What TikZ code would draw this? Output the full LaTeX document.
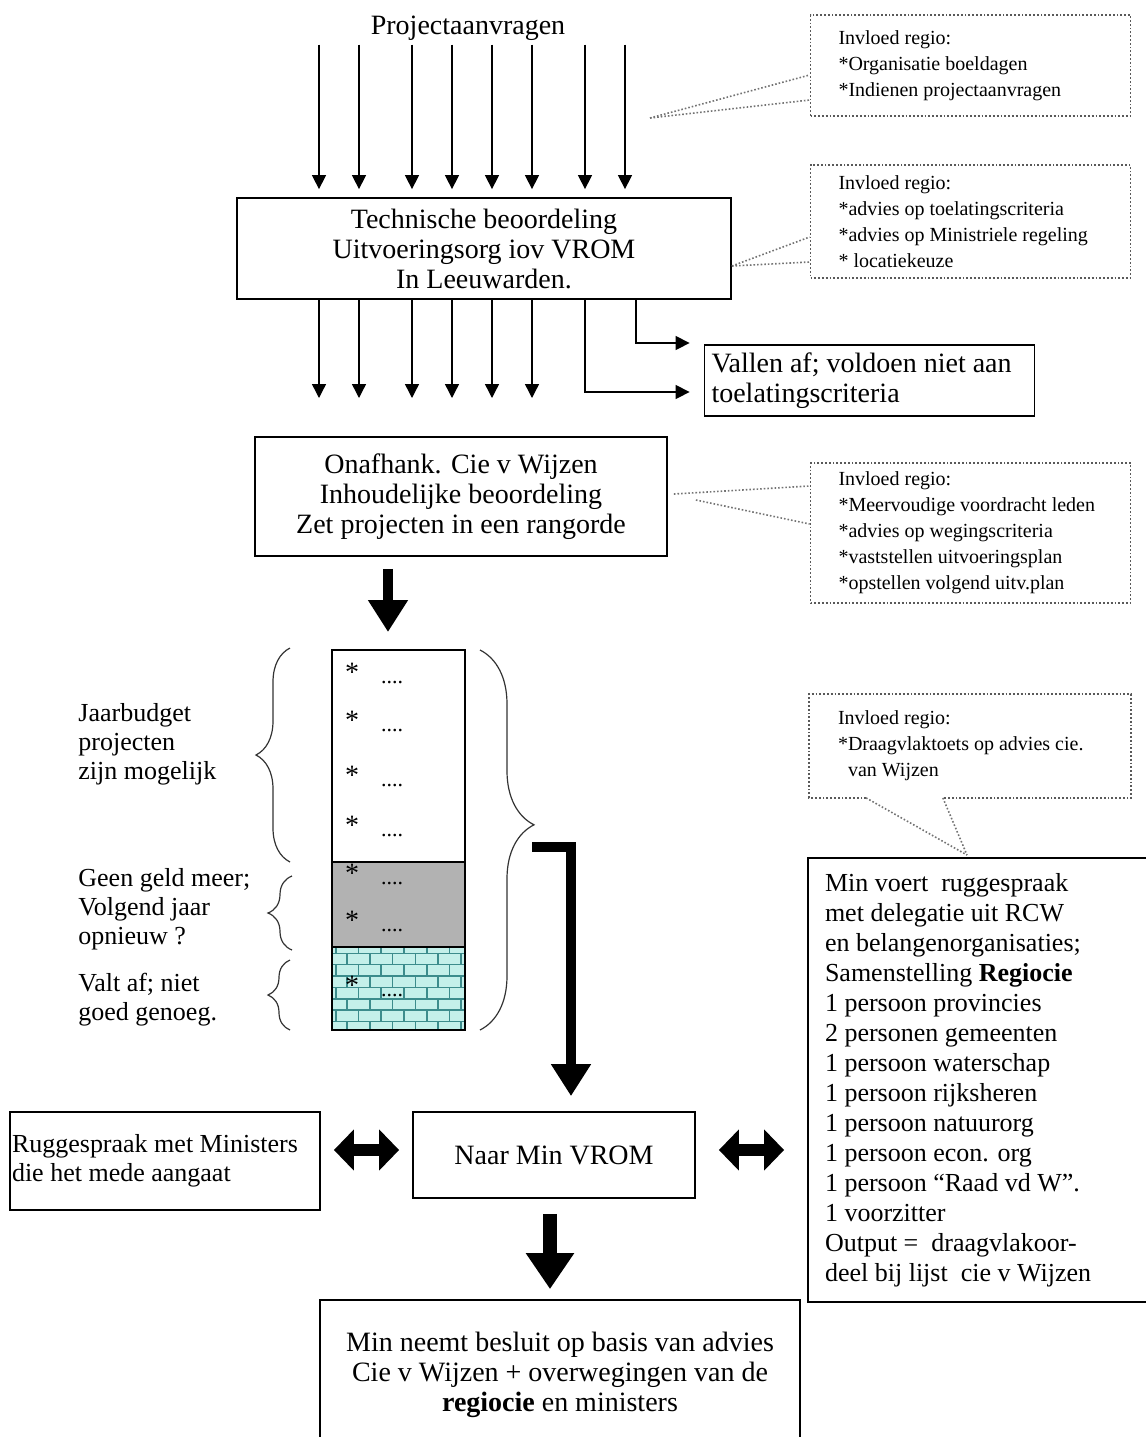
\documentclass[tikz,border=0pt]{standalone}
\usepackage{fontspec}
\setmainfont{Liberation Serif}
\usetikzlibrary{arrows.meta,positioning,decorations.pathreplacing,patterns}

\definecolor{brickfill}{RGB}{196,240,234}
\definecolor{brickline}{RGB}{60,140,140}

\tikzset{
	txt/.style={inner sep=2pt, font=\fontsize{14}{15}\selectfont},
	box/.style={draw, line width=0.9pt, align=center, font=\fontsize{14}{15}\selectfont},
	leftbox/.style={box, align=flush left},
	invloed/.style={draw=black!65, densely dotted, line width=0.9pt, align=flush left,
		inner xsep=14pt, text width=132pt, font=\fontsize{10}{13}\selectfont},
	calloutline/.style={black!55, densely dotted, line width=0.8pt},
	thinarrow/.style={-{Triangle[width=7pt,length=7pt]}, line width=0.7pt},
	fatarrow/.style={-{Triangle[width=19pt,length=16pt]}, line width=5pt},
	bigarrow/.style={-{Triangle[width=23pt,length=18pt]}, line width=7pt},
	dblarrow/.style={{Triangle[width=20pt,length=10pt]}-{Triangle[width=20pt,length=10pt]}, line width=6pt},
	curly/.style={decorate, decoration={brace, amplitude=#1}, line width=0.6pt, black!80},
	sidelabel/.style={align=left, anchor=west, inner sep=0pt, font=\fontsize{13}{14.5}\selectfont}
}

\begin{document}
\begin{tikzpicture}[x=0.5pt,y=-0.5pt]
	\useasboundingbox (0,0) rectangle (1146,1437);

	\node[txt] (proj) at (468,28) {Projectaanvragen};
	\node[box, minimum width=247pt, minimum height=50.5pt] (tech) at (484,248.5)
		{Technische beoordeling\\Uitvoeringsorg iov VROM\\In Leeuwarden.};
	\node[leftbox, text width=158pt, inner xsep=3.5pt, minimum height=35.5pt] (vallen) at (869.5,380.5)
		{Vallen af; voldoen niet aan\\toelatingscriteria};
	\node[box, minimum width=206pt, minimum height=59.5pt] (onafhank) at (461,496.5)
		{Onafhank. Cie v Wijzen\\Inhoudelijke beoordeling\\Zet projecten in een rangorde};

	\node[invloed, minimum height=50.5pt] (inv1) at (970.5,65.5)
		{Invloed regio:\\{}*Organisatie boeldagen\\{}*Indienen projectaanvragen};
	\node[invloed, minimum height=56.5pt] (inv2) at (970.5,221.5)
		{Invloed regio:\\{}*advies op toelatingscriteria\\{}*advies op Ministriele regeling\\{}* locatiekeuze};
	\node[invloed, minimum height=70pt] (inv3) at (970.5,533)
		{Invloed regio:\\{}*Meervoudige voordracht leden\\{}*advies op wegingscriteria\\{}*vaststellen uitvoeringsplan\\{}*opstellen volgend uitv.plan};
	\node[invloed, draw=none, minimum height=51pt] (inv4) at (970,746)
		{Invloed regio:\\{}*Draagvlaktoets op advies cie.\\\ \ van Wijzen};

	\node[leftbox, text width=164pt, inner xsep=8.5pt, minimum height=222pt,
		font=\fontsize{13}{15}\selectfont] (minvoert) at (989,1080)
		{Min voert\ \ ruggespraak\\met delegatie uit RCW\\en belangenorganisaties;\\Samenstelling \textbf{Regiocie}\\
		1 persoon provincies\\2 personen gemeenten\\1 persoon waterschap\\1 persoon rijksheren\\
		1 persoon natuurorg\\1 persoon econ. org\\1 persoon “Raad vd W”.\\1 voorzitter\\
		Output =\ \ draagvlakoor-\\deel bij lijst\ \ cie v Wijzen};

	\node[box, minimum width=141pt, minimum height=43pt] (naar) at (554,1155) {Naar Min VROM};
	\node[leftbox, text width=153pt, inner xsep=1pt, minimum height=49pt,
		font=\fontsize{13}{14.5}\selectfont] (rugge) at (165,1161)
		{Ruggespraak met Ministers\\die het mede aangaat};
	\node[box, minimum width=240pt, minimum height=75pt] (besluit) at (560,1375)
		{Min neemt besluit op basis van advies\\Cie v Wijzen + overwegingen van de\\\textbf{regiocie} en ministers};

	% stapel projecten
	\draw[line width=0.9pt] (332,650) rectangle (465,862);
	\draw[line width=0.9pt, fill=black!30] (332,862) rectangle (465,947);
	\fill[brickfill] (332,947) rectangle (465,1030);
	\fill[pattern=bricks, pattern color=brickline] (332,947) rectangle (465,1030);
	\draw[line width=0.9pt] (332,947) rectangle (465,1030);
	\foreach \y in {672,720,775,825,873,920,985}{
		\node[txt] (s\y) at (352,\y) {*};
		\node[txt, font=\fontsize{11}{12}\selectfont] (d\y) at (392,\y+10) {....};
	}

	\node[sidelabel] (budget) at (78,744) {Jaarbudget\\projecten\\zijn mogelijk};
	\node[sidelabel] (geengeld) at (78,909) {Geen geld meer;\\Volgend jaar\\opnieuw ?};
	\node[sidelabel] (valtaf) at (78,1000) {Valt af; niet\\goed genoeg.};

	\draw[curly=17pt] (290,862) -- (290,648);
	\draw[curly=12pt] (292,950) -- (292,876);
	\draw[curly=11pt] (290,1030) -- (290,960);
	\draw[curly=27pt, decoration={aspect=0.46}] (480,650) -- (480,1030);

	% pijlen
	\foreach \x in {319,359,412,452,492,532,585,625}
		\draw[thinarrow] (\x,0 |- proj.south) -- ([yshift=4pt]\x,0 |- tech.north);
	\foreach \x in {319,359,412,452,492,532}
		\draw[thinarrow] (\x,0 |- tech.south) -- (\x,398);
	\draw[thinarrow] (585,0 |- tech.south) |- ([xshift=-7pt]vallen.west |- 0,392);
	\draw[thinarrow] (636,0 |- tech.south) |- ([xshift=-7pt]vallen.west |- 0,343);

	\draw[fatarrow] ([yshift=-6pt]388,0 |- onafhank.south) -- (388,632);
	\coordinate (bracetip) at (532,847);
	\draw[fatarrow] (bracetip) -| ([xshift=8.5pt,yshift=7.5pt]naar.north);
	\draw[dblarrow] ([xshift=6.5pt,yshift=2.5pt]naar.west -| rugge.east) -- ([xshift=-6.5pt,yshift=2.5pt]naar.west);
	\draw[dblarrow] ([xshift=11.5pt,yshift=2.5pt]naar.east) -- ([xshift=-11.5pt,yshift=2.5pt]naar.east -| minvoert.west);
	\draw[bigarrow] ([xshift=-2pt,yshift=-7.5pt]naar.south) -- ([xshift=-2pt,yshift=5pt]naar.south |- besluit.north);

	% invloed callouts
	\draw[calloutline] (650,118) -- (inv1.west |- 0,75);
	\draw[calloutline] (650,118) -- (inv1.west |- 0,100);
	\draw[calloutline] (tech.east |- 0,266) -- (inv2.west |- 0,237);
	\draw[calloutline] (tech.east |- 0,266) -- (inv2.west |- 0,262);
	\draw[calloutline] ([xshift=3pt]onafhank.east |- 0,494) -- (inv3.west |- 0,486);
	\draw[calloutline] ([xshift=14pt]onafhank.east |- 0,500) -- (inv3.west |- 0,524);
	\coordinate (tip4) at (967,855);
	\draw[draw=black!65, densely dotted, line width=0.9pt] ([xshift=28.5pt]inv4.south west) -- (inv4.south west)
		-- (inv4.north west) -- (inv4.north east) -- (inv4.south east) -- ([xshift=-94pt]inv4.south east);
	\draw[calloutline] ([xshift=28.5pt]inv4.south west) -- (tip4);
	\draw[calloutline] ([xshift=-94pt]inv4.south east) -- (tip4);
\end{tikzpicture}
\end{document}
